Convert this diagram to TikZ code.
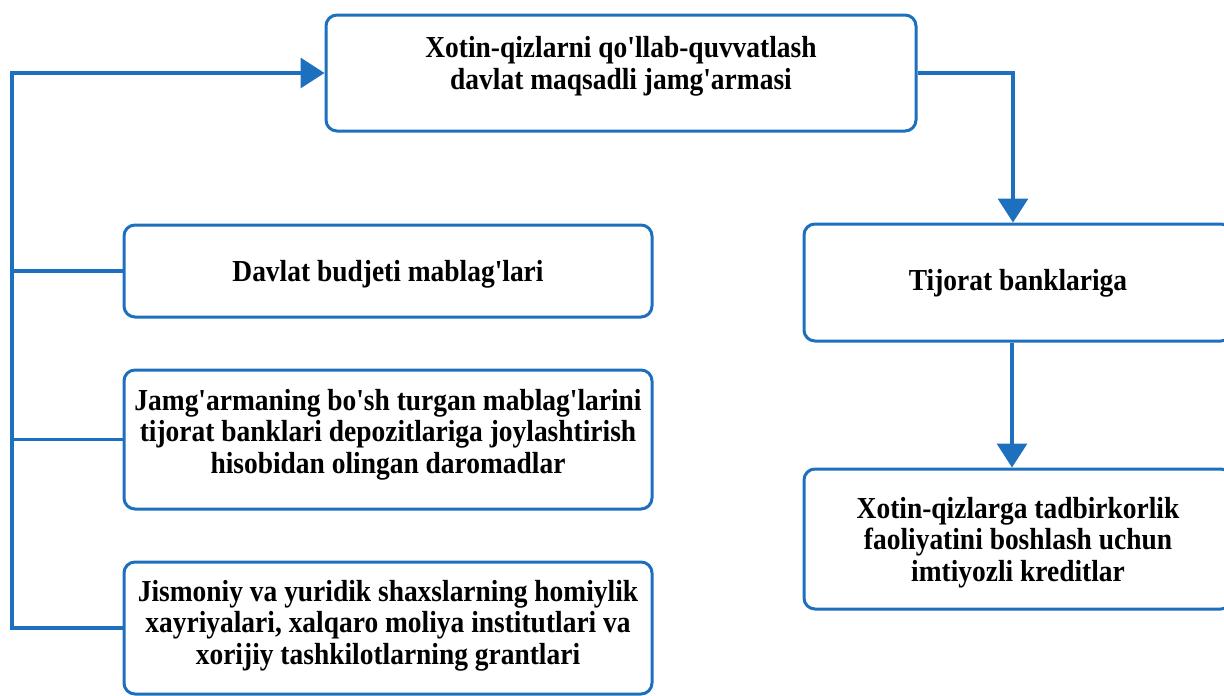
\documentclass[tikz,border=0pt]{standalone}
\usepackage{fontspec}
\setmainfont[Ligatures=TeXOff, FakeStretch=0.9]{Liberation Serif}
\usepackage{tikz}
\usetikzlibrary{arrows.meta, positioning}
\definecolor{fundblue}{RGB}{28,112,190}

\begin{document}
\begin{tikzpicture}[
		fundbox/.style={draw=fundblue, line width=3pt, rounded corners=11pt, align=center, inner sep=0pt, font=\bfseries\fontsize{30.5}{31.5}\selectfont},
		link/.style={draw=fundblue, line width=3.4pt},
		tip/.style={-{Triangle[length=24pt, width=30pt]}}
	]
		\useasboundingbox (0pt,0pt) rectangle (1224pt,-696pt);
		\coordinate (spine) at (12pt,0pt);

		%fund
		\node[fundbox, minimum width=590pt, minimum height=116pt, text depth=20pt] (fund) at (621pt,-73pt) {Xotin-qizlarni qo'llab-quvvatlash\\davlat maqsadli jamg'armasi};

		%sources
		\node[fundbox, minimum width=528pt, minimum height=92pt, text depth=0pt] (budget) at (388pt,-271pt) {Davlat budjeti mablag'lari};
		\node[fundbox, minimum width=528pt, minimum height=139pt, text depth=17pt] (deposit) at (388pt,-439.5pt) {Jamg'armaning bo'sh turgan mablag'larini\\tijorat banklari depozitlariga joylashtirish\\hisobidan olingan daromadlar};
		\node[fundbox, minimum width=528pt, minimum height=132pt, text depth=12pt] (gifts) at (388pt,-628pt) {Jismoniy va yuridik shaxslarning homiylik\\xayriyalari, xalqaro moliya institutlari va\\xorijiy tashkilotlarning grantlari};

		%uses
		\node[fundbox, minimum width=428pt, minimum height=117pt, text depth=6pt] (banks) at (1018pt,-282.5pt) {Tijorat banklariga};
		\node[fundbox, minimum width=428pt, minimum height=140pt, text depth=0pt] (credits) at (1018pt,-539pt) {Xotin-qizlarga tadbirkorlik\\faoliyatini boshlash uchun\\imtiyozli kreditlar};

		%left collector line:
		\draw[link, tip] (gifts.west) -- (gifts.west -| spine) |- (fund.west);
		\draw[link] (budget.west) -- (budget.west -| spine);
		\draw[link] (deposit.west) -- (deposit.west -| spine);

		%right branch
		\draw[link, tip] (fund.east) -| ([xshift=-5pt]banks.north);
		\draw[link, tip] ([xshift=-6pt]banks.south) -- ([xshift=-6pt]credits.north);
\end{tikzpicture}
\end{document}
